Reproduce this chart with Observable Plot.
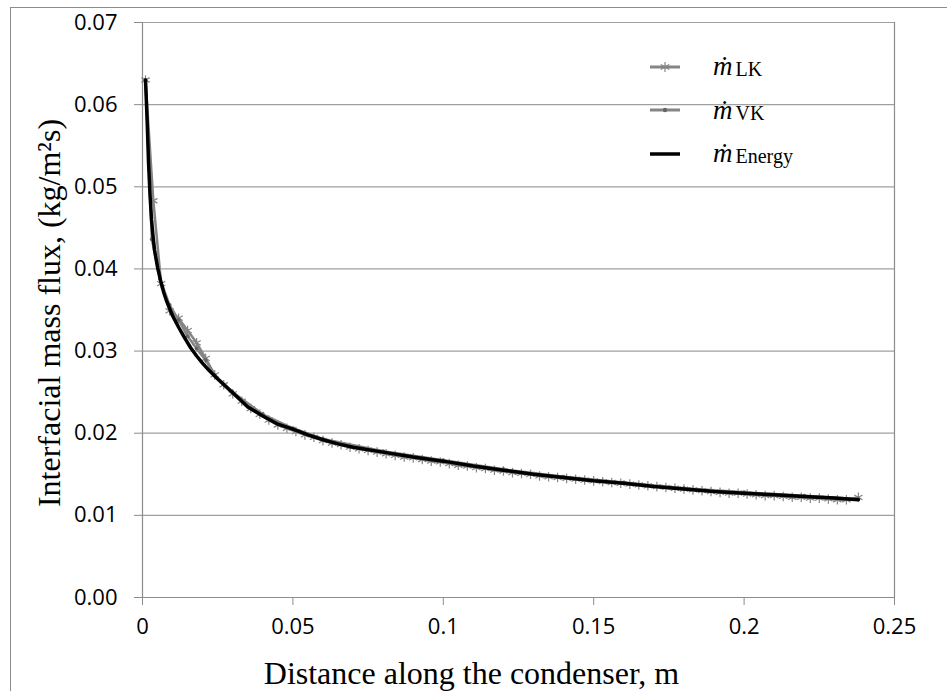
<!DOCTYPE html>
<html>
<head>
<meta charset="utf-8">
<script src="https://cdn.jsdelivr.net/npm/d3@7"></script>
<script src="https://cdn.jsdelivr.net/npm/@observablehq/plot@0.6"></script>
<style>
  body { margin: 0; background: #fff; }
  #wrap { position: relative; width: 947px; height: 691px; overflow: hidden; background: #fff; }
  #border { position: absolute; left: 10px; top: 7px; width: 1200px; height: 1200px; border: 1px solid #8c8c8c; box-sizing: border-box; pointer-events: none; }
  #chart { position: absolute; left: 0; top: 0; }
  #legend { position: absolute; left: 650px; top: 45px; font-family: "Liberation Serif", "Times New Roman", serif; }
  .lg { display: flex; align-items: center; height: 43.5px; }
  .lg svg { width: 30px; height: 12px; margin-right: 33px; }
  .m { font-style: italic; font-size: 27px; line-height: 1; }
  .sub { font-size: 20px; position: relative; top: 3px; margin-left: 3px; }
</style>
</head>
<body>
<div id="wrap">
  <div id="border"></div>
  <div id="chart"></div>
  <div id="legend"></div>
</div>
<script>
// ---- data ----
const energyX = [0.001,0.0015,0.002,0.0025,0.003,0.0035,0.004,0.005,0.006,0.007,0.008,0.009,0.010,0.012,0.014,0.016,0.018,0.020,0.022,0.025,0.028,0.031,0.035,0.040,0.045,0.050,0.055,0.060,0.065,0.070,0.080,0.090,0.100,0.110,0.120,0.130,0.140,0.150,0.160,0.170,0.180,0.190,0.200,0.210,0.220,0.230,0.238];
const energyY = [0.0630,0.0585,0.0530,0.0490,0.0460,0.0440,0.0423,0.0402,0.0386,0.0372,0.0361,0.0352,0.0343,0.0329,0.0316,0.0304,0.0294,0.0285,0.0277,0.0266,0.0256,0.0246,0.0232,0.0221,0.0211,0.0205,0.0198,0.0192,0.0187,0.0183,0.0177,0.0171,0.0166,0.0160,0.0155,0.0150,0.0146,0.0142,0.0139,0.0135,0.0132,0.0129,0.0127,0.0125,0.0123,0.0121,0.0119];

const lkX = [0.001,0.0036,0.0062,0.009,0.012,0.015,0.018,0.021,0.024,0.027,0.030,0.033,0.036,0.039,0.042,0.045,0.048,0.051,0.054,0.057,0.060,0.063,0.066,0.069,0.072,0.075,0.078,0.081,0.084,0.087,0.090,0.093,0.096,0.099,0.102,0.105,0.108,0.111,0.114,0.117,0.120,0.123,0.126,0.129,0.132,0.135,0.138,0.141,0.144,0.147,0.150,0.153,0.156,0.159,0.162,0.165,0.168,0.171,0.174,0.177,0.180,0.183,0.186,0.189,0.192,0.195,0.198,0.201,0.204,0.207,0.210,0.213,0.216,0.219,0.222,0.225,0.228,0.231,0.234,0.238];
const lkY = [0.0630,0.0483,0.0382,0.0349,0.0340,0.0325,0.0310,0.0291,0.0271,0.0259,0.0248,0.0239,0.0230,0.0223,0.0216,0.0210,0.0206,0.0202,0.0198,0.0195,0.0191,0.0188,0.0186,0.0183,0.0181,0.0179,0.0177,0.0175,0.0173,0.0171,0.0170,0.0168,0.0166,0.0165,0.0163,0.0161,0.0160,0.0158,0.0157,0.0155,0.0154,0.0152,0.0151,0.0150,0.0148,0.0147,0.0146,0.0145,0.0144,0.0143,0.0142,0.0141,0.0140,0.0139,0.0138,0.0137,0.0136,0.0135,0.0134,0.0133,0.0132,0.0131,0.0130,0.0129,0.0128,0.0127,0.0127,0.0126,0.0125,0.0124,0.0124,0.0123,0.0122,0.0122,0.0121,0.0121,0.0120,0.0119,0.0119,0.0122];

const vkX = [0.001,0.0031,0.0058,0.009,0.012,0.015,0.018,0.021,0.024,0.030,0.040,0.050,0.060,0.080,0.100,0.120,0.140,0.160,0.180,0.200,0.220,0.238];
const vkY = [0.0630,0.0436,0.0388,0.0356,0.0338,0.0318,0.0303,0.0289,0.0271,0.0250,0.0223,0.0206,0.0193,0.0178,0.0167,0.0156,0.0147,0.0140,0.0133,0.0128,0.0124,0.0120];

const xTicks = [0, 0.05, 0.1, 0.15, 0.2, 0.25];
const yTicks = [0, 0.01, 0.02, 0.03, 0.04, 0.05, 0.06, 0.07];
const xTitle = "Distance along the condenser, m";
const yTitle = "Interfacial mass flux, (kg/m\u00B2s)";
const seriesNames = ["LK", "VK", "Energy"];

// ---- tables ----
const energy = energyX.map((x, i) => ({x, y: energyY[i]}));
const lk = lkX.map((x, i) => ({x, y: lkY[i]}));
const vk = vkX.map((x, i) => ({x, y: vkY[i]}));

const gray = "#858585";
const chart = Plot.plot({
  width: 947,
  height: 691,
  marginLeft: 142,
  marginTop: 22,
  marginRight: 53,
  marginBottom: 94,
  style: { fontFamily: "Open Sans", fontSize: "22px", color: "#000", background: "transparent" },
  x: { domain: [0, 0.25] },
  y: { domain: [0, 0.07] },
  marks: [
    Plot.ruleY(yTicks.slice(1), { stroke: "#a0a0a0", strokeWidth: 1.2 }),
    Plot.ruleX([0.25], { stroke: "#8c8c8c", strokeWidth: 1.2 }),
    Plot.ruleX([0], { stroke: "#8c8c8c", strokeWidth: 1.2 }),
    Plot.ruleY([0], { stroke: "#8c8c8c", strokeWidth: 1.2 }),
    Plot.axisY({ ticks: yTicks, tickFormat: d3.format(".2f"), tickSize: 8, tickPadding: 17, stroke: "#8c8c8c", fill: "#000", label: null, fontSize: 22 }),
    Plot.axisX({ ticks: xTicks, tickFormat: d => String(d), tickSize: 8, tickPadding: 13, stroke: "#8c8c8c", fill: "#000", label: null, fontSize: 22 }),
    Plot.line(lk, { x: "x", y: "y", stroke: gray, strokeWidth: 2.5 }),
    Plot.dot(lk, { x: "x", y: "y", symbol: "asterisk", r: 4.5, stroke: gray, strokeWidth: 1.2 }),
    Plot.line(vk, { x: "x", y: "y", stroke: gray, strokeWidth: 2.5 }),
    Plot.dot(vk, { x: "x", y: "y", r: 2, fill: "#666", stroke: "none" }),
    Plot.line(energy, { x: "x", y: "y", stroke: "#000", strokeWidth: 3.5 }),
    Plot.text([yTitle], { frameAnchor: "left", textAnchor: "middle", rotate: -90, dx: -93, dy: 3, fontSize: 32, fontFamily: "Liberation Serif", fill: "#000", lineAnchor: "middle" }),
    Plot.text([xTitle], { frameAnchor: "bottom", textAnchor: "middle", dx: -47, dy: 76, fontSize: 32, fontFamily: "Liberation Serif", fill: "#000", lineAnchor: "middle" })
  ]
});
document.getElementById("chart").appendChild(chart);

// ---- legend ----
const legend = document.getElementById("legend");
seriesNames.forEach((name, i) => {
  const row = document.createElement("div");
  row.className = "lg";
  let sw = '<svg viewBox="0 0 30 12">';
  if (i === 0) {
    sw += `<line x1="0" y1="6" x2="30" y2="6" stroke="${gray}" stroke-width="3"/>`;
    sw += `<path d="M15,1V11M10.7,3.5L19.3,8.5M10.7,8.5L19.3,3.5" stroke="${gray}" stroke-width="1.2"/>`;
  } else if (i === 1) {
    sw += `<line x1="0" y1="6" x2="30" y2="6" stroke="${gray}" stroke-width="3"/>`;
    sw += `<circle cx="15" cy="6" r="2.2" fill="#666"/>`;
  } else {
    sw += `<line x1="0" y1="6" x2="30" y2="6" stroke="#000" stroke-width="3.5"/>`;
  }
  sw += '</svg>';
  row.innerHTML = sw + '<span class="m">m\u0307</span><span class="sub">' + name + '</span>';
  legend.appendChild(row);
});
</script>
</body>
</html>
